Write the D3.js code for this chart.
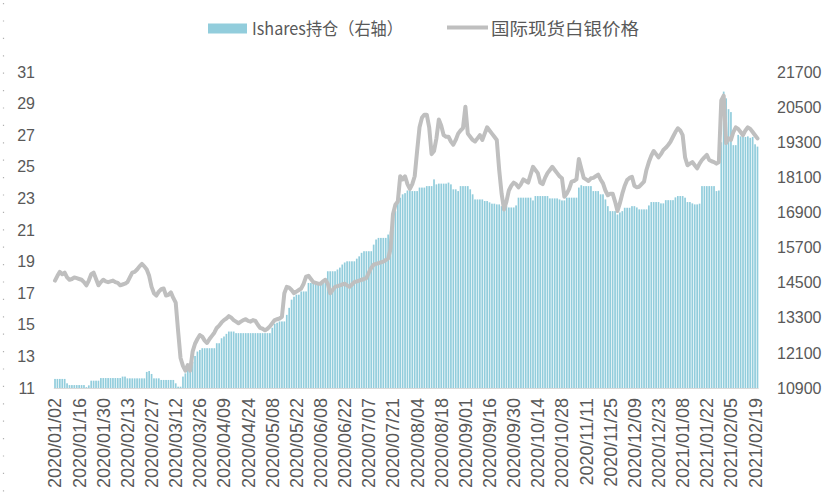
<!DOCTYPE html>
<html><head><meta charset="utf-8">
<script src="https://cdn.jsdelivr.net/npm/d3@7"></script>
<style>body{margin:0;background:#fff} svg{display:block}</style>
</head><body><svg id="c" width="826" height="504"></svg>
<script>
// ---- categories: trading days ----
const startDate = "2020-01-02", endDate = "2021-02-22";
const holidays = ["2020-04-10","2020-05-25","2020-07-03","2020-09-07","2020-12-25","2021-01-01"];
const tickLabels = ["2020/01/02","2020/01/16","2020/01/30","2020/02/13","2020/02/27","2020/03/12","2020/03/26","2020/04/09","2020/04/24","2020/05/08","2020/05/22","2020/06/08","2020/06/22","2020/07/07","2020/07/21","2020/08/04","2020/08/18","2020/09/01","2020/09/16","2020/09/30","2020/10/14","2020/10/28","2020/11/11","2020/11/25","2020/12/09","2020/12/23","2021/01/08","2021/01/22","2021/02/05","2021/02/19"];
const leftTicks = [11,13,15,17,19,21,23,25,27,29,31];
const rightTicks = [10900,12100,13300,14500,15700,16900,18100,19300,20500,21700];
const seriesNames = ["Ishares持仓（右轴）","国际现货白银价格"];

// ---- series: 国际现货白银价格 (left axis) ----
const silverPrice = [
17.8,18.1,18.35,18.2,18.3,18.0,17.85,17.9,18.0,17.95,
17.9,17.85,17.7,17.5,17.8,18.2,18.3,17.9,17.5,17.7,
17.85,17.75,17.7,17.75,17.8,17.7,17.65,17.5,17.55,17.6,
17.7,18.0,18.3,18.35,18.5,18.7,18.85,18.7,18.5,18.1,
17.4,17.0,16.85,17.1,17.25,17.3,16.85,16.9,17.05,16.7,
16.4,14.6,12.9,12.4,12.1,12.45,12.1,13.3,13.8,14.1,
14.35,14.25,14.0,13.85,14.1,14.3,14.5,14.8,14.95,15.15,
15.3,15.4,15.55,15.45,15.3,15.2,15.1,15.2,15.3,15.35,
15.25,15.2,15.3,15.25,15.0,14.8,14.75,14.65,14.75,14.9,
15.1,15.3,15.35,15.4,15.5,17.0,17.4,17.35,17.2,17.0,
17.1,17.2,17.3,17.6,18.05,18.1,17.9,17.7,17.65,17.6,
17.6,17.75,17.85,17.6,17.0,17.2,17.4,17.45,17.5,17.55,
17.6,17.5,17.4,17.55,17.7,17.75,17.8,17.85,17.9,17.96,
18.3,18.6,18.8,18.85,18.9,18.95,19.0,19.1,19.2,19.8,
22.0,22.6,22.8,24.4,24.2,24.4,23.9,23.6,23.9,24.4,
26.0,27.5,28.1,28.3,28.3,27.5,25.8,26.0,26.8,28.0,
27.6,27.0,26.9,26.9,26.6,26.4,26.7,27.1,27.3,27.45,
28.8,27.1,26.9,26.7,26.6,26.8,27.0,26.7,27.1,27.5,
27.3,27.1,26.9,26.7,24.8,23.3,22.3,22.8,23.5,23.8,
24.0,23.9,23.7,23.9,24.2,24.1,24.0,24.5,25.0,24.8,
24.6,24.0,23.9,24.3,24.6,24.8,25.0,24.8,24.6,24.4,
24.27,23.1,23.3,23.6,24.06,24.1,24.2,25.5,24.9,24.3,
24.2,24.1,24.27,24.3,24.4,24.5,24.2,23.95,23.5,23.2,
23.3,23.3,22.8,22.2,22.7,23.3,23.8,24.16,24.3,24.37,
23.8,23.7,23.74,23.9,24.06,24.8,25.3,25.7,26.0,25.8,
25.6,25.8,26.06,26.2,26.38,26.6,26.9,27.2,27.44,27.3,
27.0,25.6,25.1,25.2,25.3,25.1,24.9,25.2,25.43,25.6,
25.75,25.43,25.35,25.3,25.2,25.3,29.2,29.5,26.5,26.8,
26.7,27.2,27.5,27.4,27.2,27.0,27.3,27.5,27.4,27.2,
27.0,26.8];

// ---- series: Ishares持仓 (right axis) ----
const isharesHoldings = [
11210,11210,11210,11210,11210,11060,11000,11000,11000,11000,
11000,11000,11000,10930,10990,11150,11150,11150,11150,11240,
11240,11240,11240,11240,11240,11240,11240,11240,11290,11290,
11230,11230,11230,11230,11230,11230,11230,11230,11450,11480,
11380,11230,11230,11230,11175,11175,11175,11175,11175,11175,
11060,10945,10945,11290,11400,11630,11720,11800,11995,12145,
12200,12260,12260,12260,12260,12260,12260,12430,12430,12600,
12660,12750,12830,12830,12830,12775,12775,12775,12775,12775,
12775,12775,12775,12775,12775,12775,12775,12775,12775,12775,
12960,13095,13130,13175,13175,13175,13400,13640,13920,14020,
14090,14090,14200,14200,14200,14490,14490,14490,14490,14490,
14490,14490,14490,14890,14890,14890,14890,14950,15015,15120,
15190,15230,15230,15230,15230,15320,15400,15520,15575,15575,
15575,15575,15800,15975,16030,16030,16030,16030,16145,16250,
16320,16945,17290,17405,17520,17560,17650,17650,17630,17630,
17630,17750,17750,17750,17800,17800,17800,18030,17860,17885,
17885,17885,17885,17920,17860,17690,17690,17630,17800,17800,
17800,17800,17690,17520,17345,17345,17345,17345,17290,17290,
17245,17200,17200,17175,17175,17115,17115,17115,17070,17070,
17070,17140,17405,17405,17405,17405,17405,17405,17310,17460,
17460,17460,17460,17460,17460,17380,17380,17380,17380,17345,
17310,17310,17405,17405,17405,17405,17405,17750,17830,17800,
17800,17800,17800,17630,17630,17630,17520,17520,17345,17115,
16945,16945,16945,16830,16900,16945,17060,17060,17060,17115,
17115,17070,17005,17005,17005,17005,17140,17255,17255,17255,
17255,17210,17210,17320,17320,17320,17320,17415,17460,17460,
17460,17405,17255,17255,17210,17175,17175,17200,17800,17800,
17800,17800,17800,17800,17630,17650,19300,21030,20800,20430,
20330,19200,19200,19550,19500,19500,19480,19500,19450,19480,
19230,19150];

// ---- build categories ----
const parse = d3.timeParse("%Y-%m-%d"), key = d3.timeFormat("%Y-%m-%d"), fmt = d3.timeFormat("%Y/%m/%d");
const dates = d3.timeDay.range(parse(startDate), d3.timeDay.offset(parse(endDate), 1))
  .filter(d => d.getDay() !== 0 && d.getDay() !== 6 && !holidays.includes(key(d)))
  .map(fmt);
const n = Math.min(dates.length, silverPrice.length, isharesHoldings.length);
const cats = dates.slice(0, n);

const svg = d3.select("#c");
const plotTop = 72, plotBottom = 388, plotLeft = 53.8, plotRight = 758.7;
const x = d3.scaleBand().domain(cats).range([plotLeft, plotRight]).paddingInner(0.3).paddingOuter(0.15);
const yL = d3.scaleLinear().domain([11, 31]).range([plotBottom, plotTop]);
const yR = d3.scaleLinear().domain([10900, 21700]).range([plotBottom, plotTop]);
const barColor = "#92CDDC", lineColor = "#BFBFBF", textColor = "#595959";

// dotted left border
svg.append("line").attr("x1", 3.5).attr("x2", 3.5).attr("y1", 3).attr("y2", 504)
  .attr("stroke", "#b0b0b0").attr("stroke-width", 1.2).attr("stroke-dasharray", "1.2 16.2");

// bars
svg.append("g").selectAll("rect").data(cats).join("rect")
  .attr("x", d => x(d)).attr("width", x.bandwidth())
  .attr("y", (d, i) => yR(isharesHoldings[i]))
  .attr("height", (d, i) => plotBottom - yR(isharesHoldings[i]))
  .attr("fill", barColor);

// baseline
svg.append("line").attr("x1", plotLeft).attr("x2", plotRight).attr("y1", plotBottom + 0.5).attr("y2", plotBottom + 0.5)
  .attr("stroke", "#d9d9d9").attr("stroke-width", 1);

// line
const line = d3.line().x((d, i) => x(cats[i]) + x.bandwidth() / 2).y(d => yL(d));
svg.append("path").datum(silverPrice.slice(0, n)).attr("d", line)
  .attr("fill", "none").attr("stroke", lineColor).attr("stroke-width", 4)
  .attr("stroke-linejoin", "round").attr("stroke-linecap", "round");

// axes
const font = "'Liberation Sans', Arial, sans-serif";
const gL = svg.append("g").attr("transform", "translate(38,0)")
  .call(d3.axisLeft(yL).tickValues(leftTicks).tickFormat(d3.format("d")).tickSize(0).tickPadding(3));
const gR = svg.append("g").attr("transform", "translate(774,0)")
  .call(d3.axisRight(yR).tickValues(rightTicks).tickFormat(d3.format("d")).tickSize(0).tickPadding(3));
[gL, gR].forEach(g => {
  g.select(".domain").remove();
  g.selectAll("text").attr("fill", textColor).style("font-size", "16px").style("font-family", font);
});
const gX = svg.append("g").attr("transform", `translate(0,${plotBottom})`)
  .call(d3.axisBottom(x).tickValues(tickLabels.filter(t => cats.includes(t))).tickSize(0));
gX.select(".domain").remove();
gX.selectAll("text").attr("transform", "rotate(-90)").attr("text-anchor", "end")
  .attr("x", -10).attr("y", 0).attr("dy", "0.36em")
  .attr("fill", textColor).style("font-size", "18px").style("font-family", font);

// legend
const lg = svg.append("g").style("font-family", "'Noto Sans CJK SC', sans-serif").style("font-size", "17px");
lg.append("rect").attr("x", 208).attr("y", 23.5).attr("width", 39).attr("height", 10).attr("fill", barColor);
lg.append("text").attr("x", 252).attr("y", 34.5).attr("fill", textColor)
  .attr("textLength", 151).attr("lengthAdjust", "spacingAndGlyphs").text(seriesNames[0]);
lg.append("line").attr("x1", 447).attr("x2", 488).attr("y1", 27.5).attr("y2", 27.5)
  .attr("stroke", lineColor).attr("stroke-width", 4);
lg.append("text").attr("x", 491).attr("y", 34.5).attr("fill", textColor)
  .attr("textLength", 148).attr("lengthAdjust", "spacingAndGlyphs").text(seriesNames[1]);
</script></body></html>
